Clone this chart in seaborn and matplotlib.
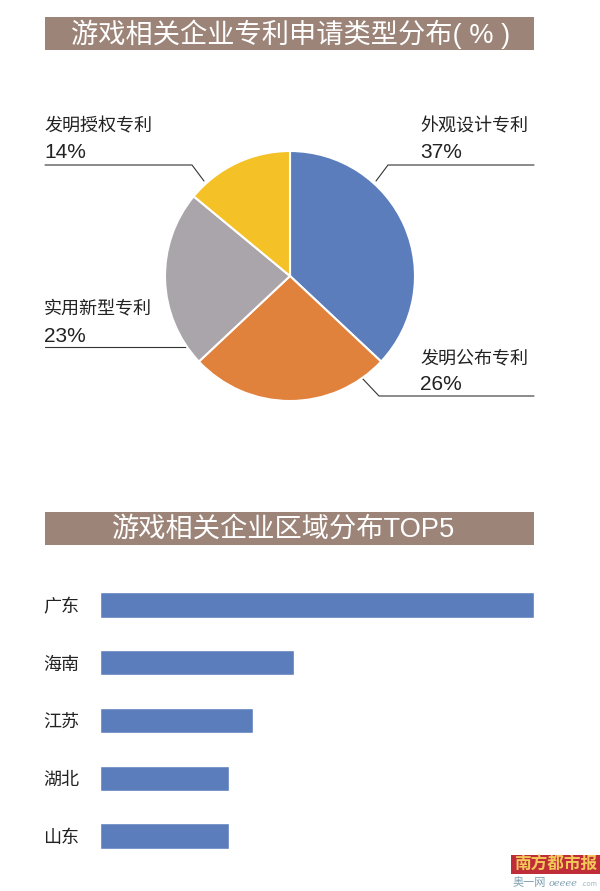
import seaborn as sns
import matplotlib.pyplot as plt
import pandas as pd

# pie data
pie_names = ['外观设计专利', '发明公布专利', '实用新型专利', '发明授权专利']
pie_values = [37, 26, 23, 14]
pie_colors = ['#5b7dbb', '#e0813c', '#a9a5aa', '#f4c127']

# bar data, no axis in the picture so values are relative to the longest bar
regions = ['广东', '海南', '江苏', '湖北', '山东']
region_values = [100, 44.6, 35.3, 29.8, 29.8]

W, H = 600, 891
HEADER = '#9c8478'
TEXT = '#222222'

sns.set_theme(style='white')
plt.rcParams['font.family'] = ['Noto Sans CJK SC', 'DejaVu Sans']

fig = plt.figure(figsize=(W / 100, H / 100), dpi=100)

def px_axes(x0, y0, x1, y1):
    # axes placed by pixel box, y counted from the top
    return fig.add_axes([x0 / W, 1 - y1 / H, (x1 - x0) / W, (y1 - y0) / H])

# overlay for headers, labels and leader lines
bg = px_axes(0, 0, W, H)
bg.set_xlim(0, W)
bg.set_ylim(H, 0)
bg.axis('off')

def header(y0, y1, x, txt, size):
    bg.fill_between([45, 534], y0, y1, color=HEADER, lw=0)
    bg.text(x, (y0 + y1) / 2 + 1, txt, color='white', fontsize=size, ha='left', va='center',
            family=['Liberation Sans', 'Noto Sans CJK SC'])

header(17, 50, 71, '游戏相关企业专利申请类型分布( % )', 19.6)
header(512, 545, 112, '游戏相关企业区域分布TOP5', 19.6)

# pie
ax = px_axes(165, 151, 415, 401)
ax.pie(pie_values, colors=pie_colors, startangle=90, counterclock=False, radius=1,
       wedgeprops={'edgecolor': 'white', 'linewidth': 1.5})
ax.set_xlim(-1, 1)
ax.set_ylim(-1, 1)

labels = [(420, 126, 153, pie_names[0], pie_values[0]),
          (420, 358, 384, pie_names[1], pie_values[1]),
          (44, 308, 336, pie_names[2], pie_values[2]),
          (44, 126, 153, pie_names[3], pie_values[3])]
for x, y1, y2, name, val in labels:
    bg.text(x, y1, name, fontsize=13, color=TEXT, va='center')
    bg.text(x, y2, f'{val}%', fontsize=15, color=TEXT, va='center', family='Liberation Sans')

# leader lines
leaders = [([534, 388, 376], [165, 165, 181]),
           ([534, 379, 362], [396, 396, 378]),
           ([45, 186], [347, 347]),
           ([45, 192, 204], [165, 165, 181])]
for xs, ys in leaders:
    bg.plot(xs, ys, color='#333333', lw=0.8)

# bars
df = pd.DataFrame({'region': regions, 'value': region_values})
ax2 = px_axes(100, 576, 534, 865)
sns.barplot(data=df, y='region', x='value', color='#5b7dbb', saturation=1, width=0.44, ax=ax2)
ax2.set_xlim(0, 100)
ax2.set_xlabel('')
ax2.set_ylabel('')
ax2.set_xticks([])
ax2.tick_params(axis='y', length=0, pad=15, labelsize=13, labelcolor=TEXT)
sns.despine(ax=ax2, left=True, bottom=True)
ax2.patch.set_alpha(0)

# newspaper mark
bg.fill_between([511, 600], 855, 874, color='#bf2e38', lw=0)
bg.text(556, 864.5, '南方都市报', color='#f3c75a', fontsize=12, fontweight='bold', ha='center', va='center')
bg.text(513, 883, '奥一网', color='#7d9fb0', fontsize=8, va='center')
bg.text(549, 883, 'oeeee', color='#7d9fb0', fontsize=7, style='italic', family='DejaVu Serif', va='center')
bg.text(581, 884, '.com', color='#9fb8c4', fontsize=5, va='center')

fig.savefig('out.png', dpi=100)
